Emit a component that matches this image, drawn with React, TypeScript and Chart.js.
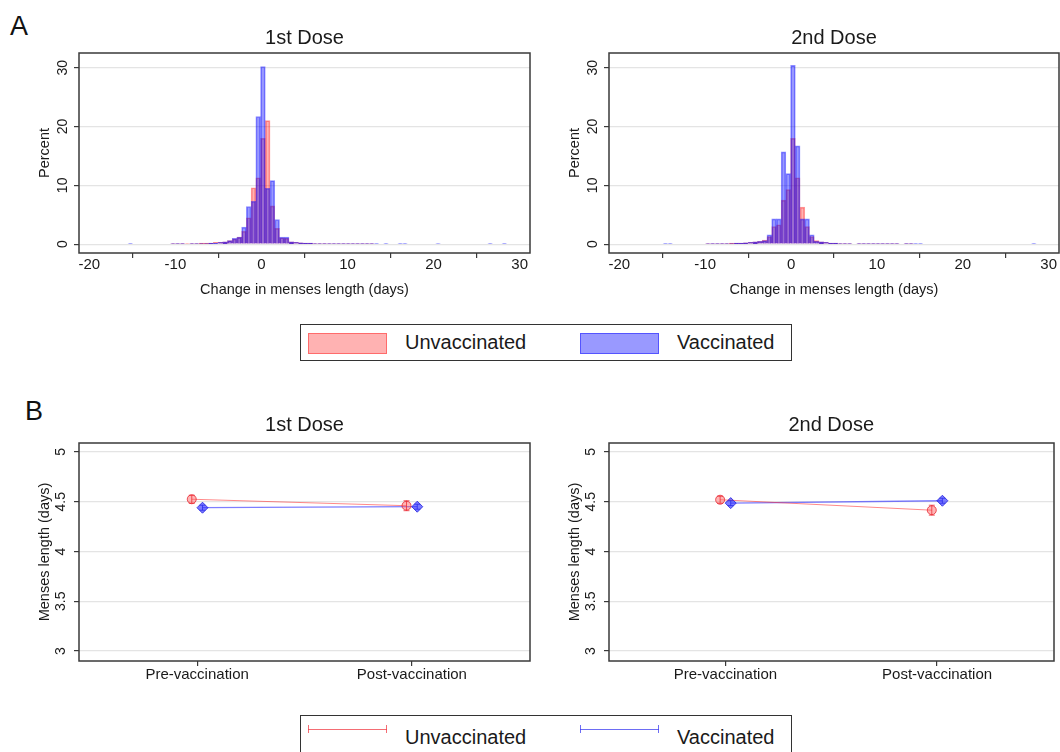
import React, { useEffect, useRef } from 'react';
import { Chart, registerables } from 'chart.js';

Chart.register(...registerables);

const FONT = '"Liberation Sans", Arial, Helvetica, sans-serif';

// ---------- Panel A: histogram data (bin centres in days, percent) ----------
const histXTicks = [-20, -10, 0, 10, 20, 30];
const histYTicks = [0, 10, 20, 30];

const dose1Bins = [
  -15.23, -10.28, -9.73, -9.18, -8.63, -8.08, -7.53, -6.98, -6.43, -5.88,
  -5.33, -4.78, -4.23, -3.68, -3.13, -2.58, -2.03, -1.48, -0.93, -0.38,
  0.17, 0.72, 1.27, 1.82, 2.37, 2.92, 3.47, 4.02, 4.57, 5.12,
  5.67, 6.22, 6.77, 7.32, 7.87, 8.42, 8.97, 9.52, 10.07, 10.62,
  11.17, 11.72, 12.27, 12.82, 13.37, 14.47, 16.12, 16.67, 20.52, 26.57,
  28.22,
];
const dose1Unvaccinated = [
  null, 0.1, 0.1, 0.15, 0.1, 0.15, 0.15, 0.2, 0.2, 0.2,
  0.3, 0.3, 0.4, 0.6, 0.9, 1.2, 2.2, 4.5, 9.6, 11.3,
  18.0, 21.0, 6.5, 2.7, 1.1, 1.0, 0.4, 0.3, 0.25, 0.2,
  0.2, 0.15, 0.15, 0.15, 0.1, 0.1, 0.1, 0.1, 0.1, 0.1,
  0.1, 0.1, 0.1, 0.1, null, null, null, null, null, null,
  null,
];
const dose1Vaccinated = [
  0.15, 0.1, 0.15, 0.15, null, 0.15, 0.15, 0.15, 0.15, 0.2,
  0.2, 0.3, 0.4, 0.6, 1.0, 1.2, 2.9, 6.4, 7.3, 21.7,
  30.2, 9.5, 10.8, 4.2, 1.2, 1.2, 0.4, 0.3, 0.25, 0.2,
  0.2, 0.15, 0.15, 0.15, 0.15, 0.15, 0.15, 0.15, 0.15, 0.15,
  0.15, 0.15, 0.15, 0.15, 0.15, 0.15, 0.15, 0.15, 0.1, 0.15,
  0.15,
];

const dose2Bins = [
  -14.63, -14.08, -9.68, -9.13, -8.58, -8.03, -7.48, -6.93, -6.38, -5.83,
  -5.28, -4.73, -4.18, -3.63, -3.08, -2.53, -1.98, -1.43, -0.88, -0.33,
  0.22, 0.77, 1.32, 1.87, 2.42, 2.97, 3.52, 4.07, 4.62, 5.17,
  5.72, 6.27, 6.82, 7.92, 8.47, 9.02, 9.57, 10.12, 10.67, 11.22,
  11.77, 12.32, 13.42, 13.97, 14.52, 15.07, 28.27,
];
const dose2Unvaccinated = [
  null, null, 0.1, 0.1, 0.1, 0.15, 0.15, 0.2, 0.2, 0.2,
  0.25, 0.3, 0.4, 0.5, 0.7, 1.3, 3.0, 3.3, 7.5, 9.3,
  18.0, 11.3, 6.3, 3.0, 1.3, 0.6, 0.4, 0.3, 0.2, 0.2,
  0.15, 0.15, 0.1, 0.1, 0.1, 0.1, 0.1, 0.1, 0.1, 0.1,
  0.1, 0.1, 0.1, 0.1, null, null, null,
];
const dose2Vaccinated = [
  0.15, 0.15, 0.1, 0.15, 0.15, 0.15, 0.15, 0.15, 0.2, 0.2,
  0.25, 0.3, 0.4, 0.5, 0.6, 1.6, 4.3, 4.3, 15.7, 12.0,
  30.4, 16.7, 4.3, 4.3, 1.6, 0.5, 0.4, 0.3, 0.2, 0.2,
  0.15, 0.15, 0.15, 0.15, 0.15, 0.15, 0.15, 0.15, 0.15, 0.15,
  0.15, 0.15, 0.15, 0.15, 0.15, 0.15, 0.15,
];

// ---------- Panel B: mean menses length with 95% CI half-widths ----------
const periods = ['Pre-vaccination', 'Post-vaccination'];
const meanYTicks = [3, 3.5, 4, 4.5, 5];

const dose1UnvacMean = [4.525, 4.46];
const dose1UnvacErr = [0.04, 0.05];
const dose1VacMean = [4.44, 4.45];
const dose1VacErr = [0.025, 0.025];

const dose2UnvacMean = [4.52, 4.415];
const dose2UnvacErr = [0.035, 0.05];
const dose2VacMean = [4.486, 4.51];
const dose2VacErr = [0.025, 0.025];

// ---------- styles ----------
const RED_FILL = 'rgba(255,0,0,0.30)';
const RED_LINE = 'rgba(255,0,0,0.40)';
const BLUE_FILL = 'rgba(0,0,255,0.40)';
const BLUE_LINE = 'rgba(0,0,255,0.45)';
const DODGE = 0.025;
const AXIS_COLOR = '#3a3a3a';
const GRID_COLOR = '#e4e4e4';
const TEXT_COLOR = '#1a1a1a';

const framePlugin = {
  id: 'frame',
  afterDraw(chart: any) {
    const { ctx, chartArea } = chart;
    ctx.save();
    ctx.strokeStyle = AXIS_COLOR;
    ctx.lineWidth = 1.5;
    ctx.strokeRect(
      Math.round(chartArea.left),
      Math.round(chartArea.top),
      Math.round(chartArea.right - chartArea.left),
      Math.round(chartArea.bottom - chartArea.top)
    );
    ctx.restore();
  },
};

const errorBarPlugin = {
  id: 'errorBars',
  afterDatasetsDraw(chart: any) {
    const { ctx } = chart;
    const xs = chart.scales.x;
    const ys = chart.scales.y;
    chart.data.datasets.forEach((ds: any) => {
      const errs = ds.errorBars;
      if (!errs) return;
      ctx.save();
      ctx.strokeStyle = ds.errorColor;
      ctx.lineWidth = 1;
      ds.data.forEach((p: any, j: number) => {
        const px = xs.getPixelForValue(p.x);
        const top = ys.getPixelForValue(p.y + errs[j]);
        const bot = ys.getPixelForValue(p.y - errs[j]);
        ctx.beginPath();
        ctx.moveTo(px, top);
        ctx.lineTo(px, bot);
        ctx.moveTo(px - 3, top);
        ctx.lineTo(px + 3, top);
        ctx.moveTo(px - 3, bot);
        ctx.lineTo(px + 3, bot);
        ctx.stroke();
      });
      ctx.restore();
    });
  },
};

function setTicks(values: number[]) {
  return (scale: any) => {
    scale.ticks = values.map((v) => ({ value: v }));
  };
}

function yAxisCommon(titleText: string, ticks: number[], min: number, max: number) {
  return {
    type: 'linear',
    min,
    max,
    afterBuildTicks: setTicks(ticks),
    afterFit: (s: any) => {
      s.width = 49;
    },
    ticks: {
      minRotation: 90,
      maxRotation: 90,
      crossAlign: 'center',
      padding: 3,
      color: TEXT_COLOR,
      font: { family: FONT, size: 14 },
      callback: (v: any) => `${v}`,
    },
    grid: { color: GRID_COLOR, tickColor: AXIS_COLOR, tickLength: 5, lineWidth: 1.2 },
    border: { display: false },
    title: {
      display: true,
      text: titleText,
      color: TEXT_COLOR,
      font: { family: FONT, size: 14.5 },
      padding: { top: 6, bottom: 0 },
    },
  };
}

function histConfig(title: string, bins: number[], unvac: (number | null)[], vac: (number | null)[], padRight: number) {
  return {
    type: 'bar',
    data: {
      datasets: [
        {
          label: 'Unvaccinated',
          data: bins.map((b, i) => ({ x: b, y: unvac[i] })),
          backgroundColor: RED_FILL,
          borderColor: RED_LINE,
          borderWidth: 1,
          barPercentage: 1,
          categoryPercentage: 1,
          grouped: false,
          order: 2,
        },
        {
          label: 'Vaccinated',
          data: bins.map((b, i) => ({ x: b, y: vac[i] })),
          backgroundColor: BLUE_FILL,
          borderColor: BLUE_LINE,
          borderWidth: 1,
          barPercentage: 1,
          categoryPercentage: 1,
          grouped: false,
          order: 1,
        },
      ],
    },
    options: {
      animation: false,
      responsive: true,
      maintainAspectRatio: false,
      layout: { padding: { left: 0, right: padRight, top: 0, bottom: 0 } },
      plugins: {
        legend: { display: false },
        tooltip: { enabled: false },
        title: {
          display: true,
          text: title,
          fullSize: false,
          color: TEXT_COLOR,
          font: { family: FONT, size: 20, weight: 'normal' },
          padding: { top: 6, bottom: 3 },
        },
      },
      scales: {
        x: {
          type: 'linear',
          min: -21.2,
          max: 31.2,
          offset: false,
          afterBuildTicks: setTicks(histXTicks),
          afterFit: (s: any) => {
            s.height = 47;
          },
          ticks: {
            padding: -2,
            maxRotation: 0,
            color: TEXT_COLOR,
            font: { family: FONT, size: 15 },
            callback: (v: any) => `${v}`,
          },
          grid: { drawOnChartArea: false, tickColor: AXIS_COLOR, tickLength: 5, lineWidth: 1.2 },
          border: { display: false },
          title: {
            display: true,
            text: 'Change in menses length (days)',
            color: TEXT_COLOR,
            font: { family: FONT, size: 14.5 },
            padding: { top: 0, bottom: 1 },
          },
        },
        y: yAxisCommon('Percent', histYTicks, -1.5, 32.5),
      },
    },
    plugins: [framePlugin],
  };
}

function meansConfig(
  title: string,
  unvac: number[],
  unvacErr: number[],
  vac: number[],
  vacErr: number[],
  padRight: number
) {
  return {
    type: 'line',
    data: {
      datasets: [
        {
          label: 'Unvaccinated',
          data: unvac.map((v, i) => ({ x: i - DODGE, y: v })),
          errorBars: unvacErr,
          errorColor: 'rgba(235,40,50,0.75)',
          borderColor: 'rgba(255,40,40,0.55)',
          borderWidth: 1,
          pointStyle: 'circle',
          pointRadius: 4.5,
          pointBackgroundColor: 'rgba(255,90,90,0.45)',
          pointBorderColor: 'rgba(230,30,40,0.75)',
          pointBorderWidth: 1,
        },
        {
          label: 'Vaccinated',
          data: vac.map((v, i) => ({ x: i + DODGE, y: v })),
          errorBars: vacErr,
          errorColor: 'rgba(40,40,235,0.75)',
          borderColor: 'rgba(40,40,255,0.6)',
          borderWidth: 1.3,
          pointStyle: 'rectRot',
          pointRadius: 5.5,
          pointBackgroundColor: 'rgba(50,50,255,0.65)',
          pointBorderColor: 'rgba(30,30,220,0.8)',
          pointBorderWidth: 1,
        },
      ],
    },
    options: {
      animation: false,
      responsive: true,
      maintainAspectRatio: false,
      layout: { padding: { left: 0, right: padRight, top: 0, bottom: 0 } },
      plugins: {
        legend: { display: false },
        tooltip: { enabled: false },
        title: {
          display: true,
          text: title,
          fullSize: false,
          color: TEXT_COLOR,
          font: { family: FONT, size: 20, weight: 'normal' },
          padding: { top: 13, bottom: 6 },
        },
      },
      scales: {
        x: {
          type: 'linear',
          min: -0.55,
          max: 1.55,
          offset: false,
          afterBuildTicks: setTicks([0, 1]),
          afterFit: (s: any) => {
            s.height = 39;
          },
          ticks: {
            padding: 0,
            maxRotation: 0,
            color: TEXT_COLOR,
            font: { family: FONT, size: 15 },
            callback: (v: any) => periods[v] ?? '',
          },
          grid: { drawOnChartArea: false, tickColor: AXIS_COLOR, tickLength: 5, lineWidth: 1.2 },
          border: { display: false },
        },
        y: yAxisCommon('Menses length (days)', meanYTicks, 2.9, 5.09),
      },
    },
    plugins: [framePlugin, errorBarPlugin],
  };
}

function ChartBox(props: { left: number; top: number; width: number; height: number; make: () => any }) {
  const ref = useRef<HTMLCanvasElement | null>(null);
  useEffect(() => {
    const chart = new Chart(ref.current as HTMLCanvasElement, props.make());
    return () => chart.destroy();
  }, []);
  return (
    <div style={{ position: 'absolute', left: props.left, top: props.top, width: props.width, height: props.height }}>
      <canvas ref={ref} />
    </div>
  );
}

const legendText: React.CSSProperties = {
  position: 'absolute',
  fontFamily: FONT,
  fontSize: 20,
  color: TEXT_COLOR,
  lineHeight: '24px',
  whiteSpace: 'nowrap',
};

function CapLine(props: { left: number; top: number; color: string }) {
  return (
    <div style={{ position: 'absolute', left: props.left, top: props.top, width: 79, height: 8 }}>
      <div style={{ position: 'absolute', left: 0, top: 3.5, width: 79, height: 1, background: props.color }} />
      <div style={{ position: 'absolute', left: 0, top: 0, width: 1, height: 8, background: props.color }} />
      <div style={{ position: 'absolute', left: 78, top: 0, width: 1, height: 8, background: props.color }} />
    </div>
  );
}

export default function App() {
  return (
    <div
      style={{
        position: 'fixed',
        left: 0,
        top: 0,
        width: 1060,
        height: 752,
        overflow: 'hidden',
        background: '#ffffff',
      }}
    >
      <div style={{ position: 'absolute', left: 10, top: 11, fontFamily: FONT, fontSize: 27, color: '#111', lineHeight: '30px' }}>A</div>
      <div style={{ position: 'absolute', left: 25, top: 396, fontFamily: FONT, fontSize: 27, color: '#111', lineHeight: '30px' }}>B</div>

      <ChartBox left={30} top={20} width={510} height={280} make={() => histConfig('1st Dose', dose1Bins, dose1Unvaccinated, dose1Vaccinated, 10)} />
      <ChartBox left={560} top={20} width={500} height={280} make={() => histConfig('2nd Dose', dose2Bins, dose2Unvaccinated, dose2Vaccinated, 1)} />

      {/* Legend A */}
      <div style={{ position: 'absolute', left: 300, top: 324, width: 492, height: 37, border: '1px solid #333', boxSizing: 'border-box' }}>
        <div style={{ position: 'absolute', left: 7, top: 8, width: 79, height: 21, background: RED_FILL, border: `1px solid ${RED_LINE}`, boxSizing: 'border-box' }} />
        <div style={{ ...legendText, left: 104, top: 5 }}>Unvaccinated</div>
        <div style={{ position: 'absolute', left: 279, top: 8, width: 79, height: 21, background: BLUE_FILL, border: `1px solid ${BLUE_LINE}`, boxSizing: 'border-box' }} />
        <div style={{ ...legendText, left: 376, top: 5 }}>Vaccinated</div>
      </div>

      <ChartBox left={30} top={400} width={510} height={300} make={() => meansConfig('1st Dose', dose1UnvacMean, dose1UnvacErr, dose1VacMean, dose1VacErr, 10)} />
      <ChartBox left={560} top={400} width={500} height={300} make={() => meansConfig('2nd Dose', dose2UnvacMean, dose2UnvacErr, dose2VacMean, dose2VacErr, 1)} />

      {/* Legend B */}
      <div style={{ position: 'absolute', left: 300, top: 715, width: 492, height: 50, border: '1px solid #333', boxSizing: 'border-box' }}>
        <CapLine left={7} top={9} color="rgba(240,60,70,0.75)" />
        <div style={{ ...legendText, left: 104, top: 9 }}>Unvaccinated</div>
        <CapLine left={279} top={9} color="rgba(60,60,240,0.75)" />
        <div style={{ ...legendText, left: 376, top: 9 }}>Vaccinated</div>
      </div>
    </div>
  );
}
